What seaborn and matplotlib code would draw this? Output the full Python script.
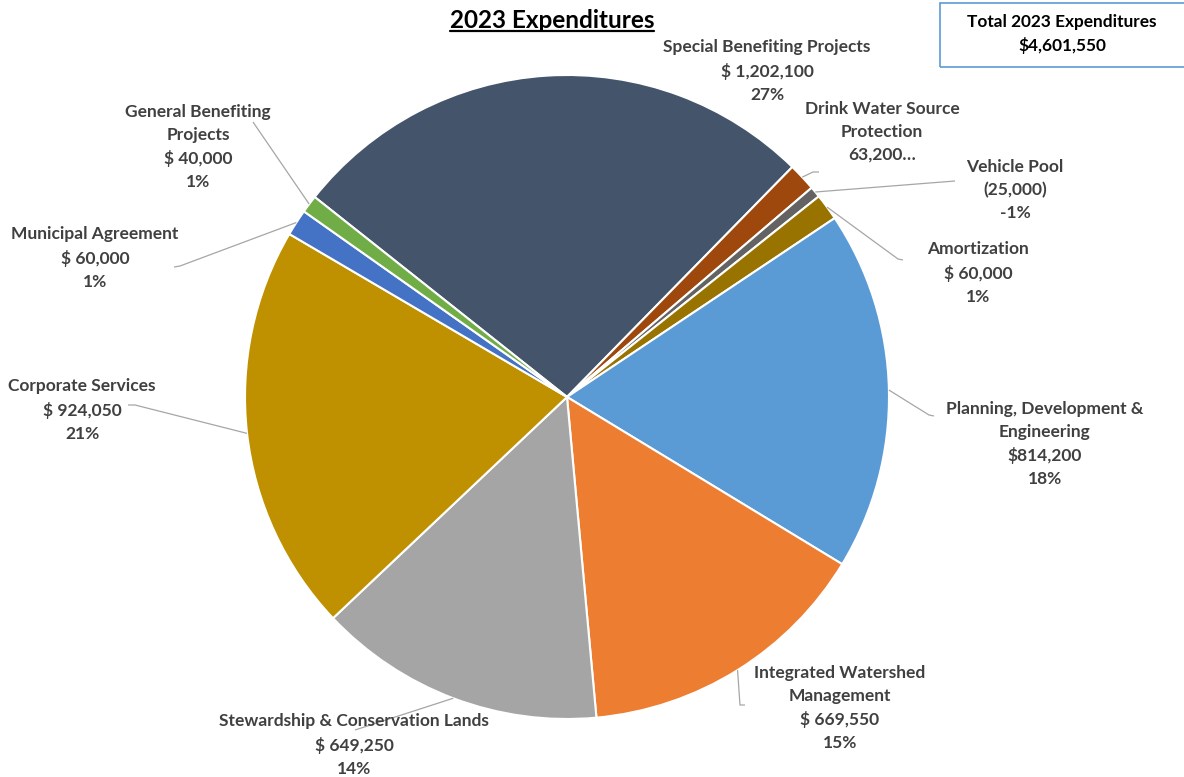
import matplotlib
matplotlib.use("Agg")
import numpy as np
import matplotlib.pyplot as plt
import seaborn as sns
from matplotlib.patches import Rectangle

# slice data, clockwise from the left edge of the biggest slice
categories = ["Special Benefiting Projects", "Drink Water Source\nProtection", "Vehicle Pool",
              "Amortization", "Planning, Development &\nEngineering", "Integrated Watershed\nManagement",
              "Stewardship & Conservation Lands", "Corporate Services", "Municipal Agreement",
              "General Benefiting\nProjects"]
amounts = [1202100, 63200, -25000, 60000, 814200, 669550, 649250, 924050, 60000, 40000]
amount_labels = ["$ 1,202,100", "63,200\u2026", "(25,000)", "$ 60,000", "$814,200", "$ 669,550",
                 "$ 649,250", "$ 924,050", "$ 60,000", "$ 40,000"]
pct_labels = ["27%", "", "-1%", "1%", "18%", "15%", "14%", "21%", "1%", "1%"]
colors = ["#44546A", "#9E480E", "#636363", "#997300", "#5B9BD5", "#ED7D31",
          "#A5A5A5", "#BF9000", "#4472C4", "#70AD47"]
total_label = "$4,601,550"

W, H = 1184, 777
cx, cy, R = 567, 397, 322

# label centers and leader elbows in image pixels (None = no leader)
label_pos = [(767, 71), (882, 132), (1015, 190), (978, 273), (1045, 444),
             (840, 708), (354, 745), (82, 410), (95, 258), (198, 147)]
elbows = [None, [(813, 172), (819, 172)], [(955, 181)], [(898, 259), (903, 260)],
          [(929, 415), (934, 416)], [(740, 705), (745, 705)], [(355, 730)],
          [(135, 405), (128, 405)], [(180, 266), (174, 267)], [(253, 122)]]

sns.set_theme(style="white")
plt.rcParams["font.family"] = ["Lato", "DejaVu Sans"]

fig = plt.figure(figsize=(W / 100, H / 100), dpi=100)
ax = fig.add_axes([0, 0, 1, 1])

wedges, _ = ax.pie(np.abs(amounts), colors=colors, startangle=141.6, counterclock=False,
                   center=(cx, H - cy), radius=R,
                   wedgeprops=dict(edgecolor="white", linewidth=1.5))
ax.set_xlim(0, W)
ax.set_ylim(0, H)
ax.set_aspect("equal")
ax.axis("off")

text_color = "#404040"
line_color = "#A6A6A6"
for w, name, amt, pct, pos, elb in zip(wedges, categories, amount_labels, pct_labels,
                                       label_pos, elbows):
    txt = "\n".join(s for s in [name, amt, pct] if s)
    ax.text(pos[0], H - pos[1], txt, ha="center", va="center", fontsize=12.5,
            fontweight="bold", color=text_color, linespacing=1.52)
    if elb is None:
        continue
    mid = np.deg2rad((w.theta1 + w.theta2) / 2)
    xs = [cx + R * np.cos(mid)] + [p[0] for p in elb]
    ys = [H - cy + R * np.sin(mid)] + [H - p[1] for p in elb]
    ax.plot(xs, ys, color=line_color, lw=0.9, solid_capstyle="butt")

# title with underline
title = ax.text(552, H - 21, "2023 Expenditures", ha="center", va="center",
                fontsize=17.5, fontweight="bold", color="black")
fig.canvas.draw()
bb = title.get_window_extent().transformed(ax.transData.inverted())
ax.plot([bb.x0, bb.x1], [bb.y0 + 1.5, bb.y0 + 1.5], color="black", lw=1.6)

# total box
ax.add_patch(Rectangle((940, H - 67), 260, 64, fill=False, edgecolor="#5B9BD5",
                       lw=1.2, clip_on=False))
ax.text(1062, H - 34, "Total 2023 Expenditures\n" + total_label, ha="center", va="center",
        fontsize=12.4, fontweight="bold", color="black", linespacing=1.55)

fig.savefig("out.png", dpi=100)
